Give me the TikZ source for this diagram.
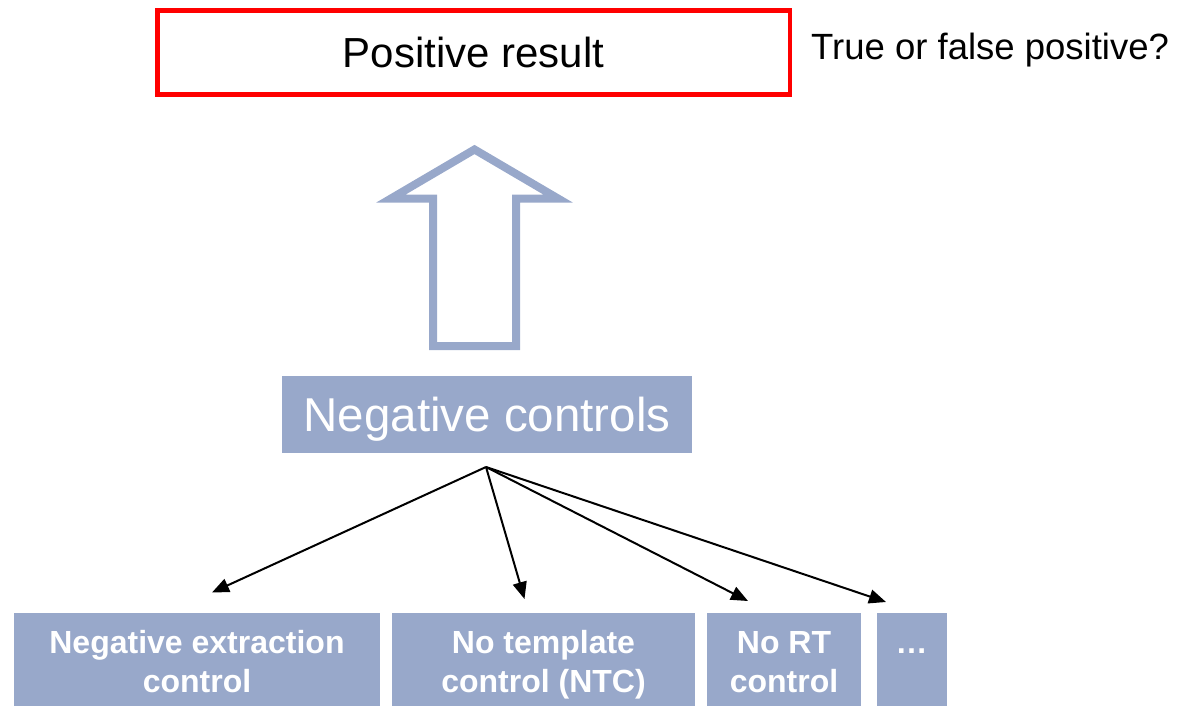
\documentclass[tikz,border=0pt]{standalone}
\usepackage{fontspec}
\setmainfont{Liberation Sans}
\usetikzlibrary{arrows.meta}
\definecolor{bgray}{RGB}{152,168,202}
\definecolor{pred}{RGB}{255,0,0}
\newcommand\firstln{\rule{0pt}{35pt}}
\newcommand\lastln{\rule[-8pt]{0pt}{8pt}}
\begin{document}
\begin{tikzpicture}[x=1pt,y=-1pt,
  bluebox/.style={fill=bgray, text=white, inner sep=0pt},
  subbox/.style={bluebox, minimum height=93pt, align=center,
    font=\bfseries\fontsize{32}{39}\selectfont},
  conn/.style={black, line width=2pt, -{Triangle[length=17pt,width=14pt]}},
  blockarrow/.style={draw=bgray, line width=8pt, miter limit=10}]
\useasboundingbox (0,0) rectangle (1180,706);
% top result box
\node[draw=pred, line width=4.5pt, minimum width=632.5pt, minimum height=84pt,
  inner sep=0pt, text depth=0pt, font=\fontsize{42}{50}\selectfont]
  (pos) at (473.5,52.75) {Positive result};
\node[anchor=base west, inner sep=0pt, font=\fontsize{36.5}{44}\selectfont]
  (question) at (811,60) {True or false positive?};
% hollow block arrow
\draw[blockarrow] (433,346) -- (433,198.5) -- (391,198.5) -- (474.5,149.5)
  -- (558,198.5) -- (516,198.5) -- (516,346) -- cycle;
% negative controls
\node[bluebox, minimum width=410pt, minimum height=77pt, text depth=0pt,
  font=\fontsize{47.5}{56}\selectfont] (neg) at (487,414.5) {Negative controls};
% sub controls
\node[subbox, minimum width=366pt] (nec) at (197,659.5)
  {\firstln Negative extraction\\control\lastln};
\node[subbox, minimum width=303pt] (ntc) at (543.5,659.5)
  {\firstln No template\\control (NTC)\lastln};
\node[subbox, minimum width=154pt] (nrt) at (784,659.5)
  {\firstln No RT\\control\lastln};
\node[subbox, minimum width=70pt] (more) at (911.5,659.5)
  {\firstln …\\\lastln};
% connectors
\coordinate (hub) at (486,467);
\coordinate (e1) at (212,592.5);
\coordinate (e2) at (524.5,599);
\coordinate (e3) at (748,601);
\coordinate (e4) at (886,602);
\draw[conn] (hub) -- (e1);
\draw[conn] (hub) -- (e2);
\draw[conn] (hub) -- (e3);
\draw[conn] (hub) -- (e4);
\end{tikzpicture}
\end{document}
